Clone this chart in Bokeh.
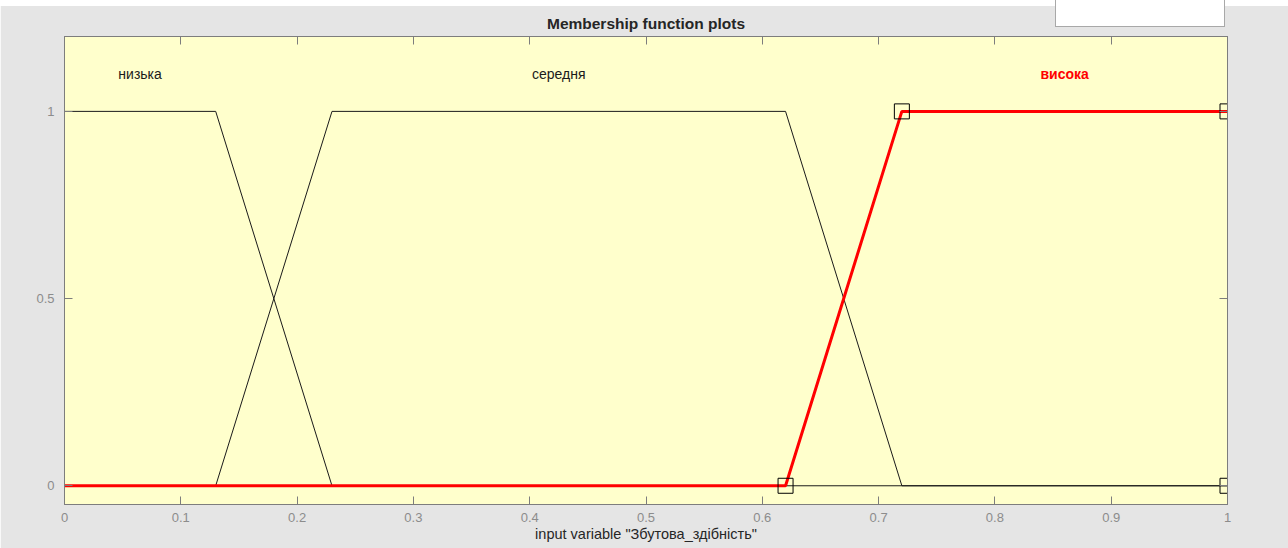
from bokeh.plotting import figure
from bokeh.layouts import column
from bokeh.models import LinearAxis, FixedTicker, Range1d, Label, Div
from bokeh.embed import file_html
from bokeh.resources import INLINE

# Membership functions of the input variable (trapezoids: a, b, c, d)
mf_names = ["низька", "середня", "висока"]
mf_params = [
    [0.0, 0.0, 0.13, 0.23],
    [0.13, 0.23, 0.62, 0.72],
    [0.62, 0.72, 1.0, 1.0],
]
selected_mf = 2

x_ticks = [0.0, 0.1, 0.2, 0.3, 0.4, 0.5, 0.6, 0.7, 0.8, 0.9, 1.0]
x_tick_labels = ["0", "0.1", "0.2", "0.3", "0.4", "0.5", "0.6", "0.7", "0.8", "0.9", "1"]
y_ticks = [0.0, 0.5, 1.0]
y_tick_labels = ["0", "0.5", "1"]

x_min, x_max = 0.0, 1.0
FONT = "Liberation Sans"


def trapmf(x, a, b, c, d):
    if x < a or x > d:
        return 0.0
    if b <= x <= c:
        return 1.0
    if x < b:
        return (x - a) / (b - a)
    return (d - x) / (d - c)


p = figure(
    width=1288, height=548,
    x_range=Range1d(x_min, x_max), y_range=Range1d(-0.05, 1.2),
    x_axis_type=None, y_axis_type=None,
    output_backend="svg", toolbar_location=None,
    min_border_left=64, min_border_right=61, min_border_top=36, min_border_bottom=44,
)
p.background_fill_color = "#ffffcc"
p.border_fill_color = "#e5e5e5"
p.outline_line_color = "#7d7d7d"
p.grid.visible = False

p.title.text = "Membership function plots"
p.title.align = "center"
p.title.text_font = FONT
p.title.text_font_size = "15.5px"
p.title.text_font_style = "bold"
p.title.text_color = "#262626"
p.title.offset = 0
p.title.standoff = 9


def styled_axis(loc, ticks, labels, show_labels):
    ax = LinearAxis(ticker=FixedTicker(ticks=ticks))
    ax.major_label_overrides = {t: (l if show_labels else "") for t, l in zip(ticks, labels)}
    ax.major_tick_in = 8
    ax.major_tick_out = 0
    ax.minor_tick_line_color = None
    ax.axis_line_color = "#7d7d7d"
    ax.major_tick_line_color = "#7d7d7d"
    ax.major_label_text_font = FONT
    ax.major_label_text_font_size = "13px" if show_labels else "1px"
    ax.major_label_text_color = "#8c8c8c"
    ax.major_label_standoff = 8 if show_labels else 0
    p.add_layout(ax, loc)
    return ax


xb = styled_axis("below", x_ticks, x_tick_labels, True)
xb.axis_label = 'input variable "Збутова_здібність"'
xb.axis_label_text_font = FONT
xb.axis_label_text_font_size = "14.5px"
xb.axis_label_text_font_style = "normal"
xb.axis_label_text_color = "#262626"
xb.axis_label_standoff = 1
yl = styled_axis("left", y_ticks, y_tick_labels, True)
yl.major_label_standoff = 10
styled_axis("above", x_ticks, x_tick_labels, False)
styled_axis("right", y_ticks, y_tick_labels, False)

# Curves: the unselected functions thin and black, the selected one thick red
order = [i for i in range(len(mf_params)) if i != selected_mf] + [selected_mf]
for i in order:
    a, b, c, d = mf_params[i]
    xs = sorted(set([x_min, a, b, c, d, x_max]))
    ys = [trapmf(x, a, b, c, d) for x in xs]
    if i == selected_mf:
        p.line(xs, ys, line_color="#ff0000", line_width=3)
    else:
        p.line(xs, ys, line_color="#1a1a1a", line_width=1)

# Vertex handles of the selected function
a, b, c, d = mf_params[selected_mf]
p.scatter([a, b, c, d], [0, 1, 1, 0], marker="square", size=15,
          fill_color=None, line_color="#000000", line_width=1)

# Function names above their plateaus
for i, (name, (a, b, c, d)) in enumerate(zip(mf_names, mf_params)):
    sel = i == selected_mf
    p.add_layout(Label(
        x=(b + c) / 2, y=1.1, text=name,
        text_align="center", text_baseline="middle",
        text_font=FONT, text_font_size="14px",
        text_font_style="bold" if sel else "normal",
        text_color="#ff0000" if sel else "#1a1a1a",
    ))

# Window chrome drawn over the top edge: a white strip and an empty white panel
chrome = Div(
    width=1288, height=28, margin=0,
    text=(
        '<div style="position:relative;width:1288px;height:28px;">'
        '<div style="position:absolute;left:0;top:0;width:1288px;height:6px;background:#ffffff;"></div>'
        '<div style="position:absolute;left:1055px;top:0;width:170px;height:27px;'
        'background:#ffffff;border:1px solid #a8a8a8;border-top:none;"></div>'
        '</div>'
    ),
    styles={"position": "absolute", "left": "0px", "top": "0px", "z-index": "10",
            "margin": "0px", "padding": "0px"},
)

layout = column(p, chrome)
open("out.html", "w").write(file_html(layout, INLINE))
